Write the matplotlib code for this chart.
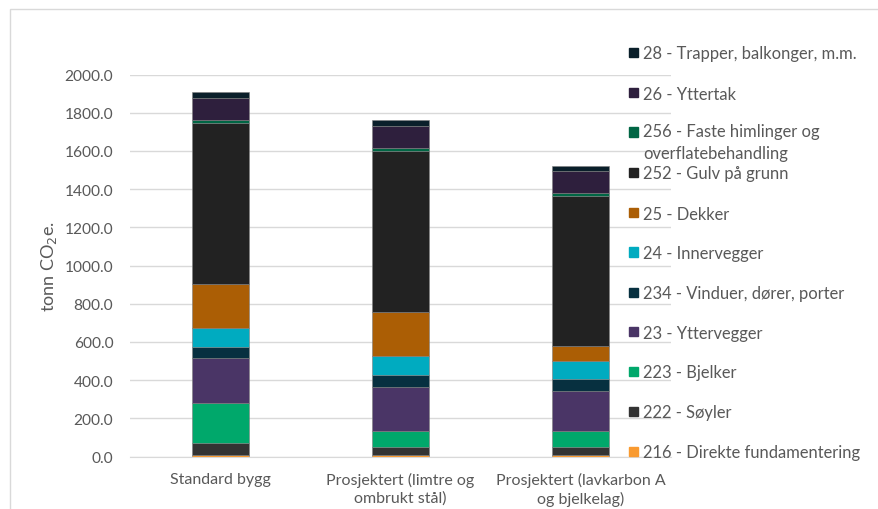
import matplotlib.pyplot as plt
from matplotlib.patches import Rectangle

plt.rcParams['font.family'] = ['Lato', 'DejaVu Sans']

kategorier = ['Standard bygg', 'Prosjektert (limtre og\nombrukt stål)',
              'Prosjektert (lavkarbon A\nog bjelkelag)']

# bygningsdeler, nederst forst
deler = ['216 - Direkte fundamentering', '222 - Søyler', '223 - Bjelker',
         '23 - Yttervegger', '234 - Vinduer, dører, porter', '24 - Innervegger',
         '25 - Dekker', '252 - Gulv på grunn',
         '256 - Faste himlinger og\noverflatebehandling', '26 - Yttertak',
         '28 - Trapper, balkonger, m.m.']

verdier = [
    [7, 7, 7],          # 216
    [65, 43, 43],       # 222
    [210, 84, 84],      # 223
    [233, 230, 209],    # 23
    [58, 61, 61],       # 234
    [102, 102, 94],     # 24
    [228, 230, 82],     # 25
    [843, 843, 785],    # 252
    [14, 14, 14],       # 256
    [118, 114, 115],    # 26
    [32, 33, 27],       # 28
]

farger = ['#f99a30', '#333333', '#00a86b', '#4a3566', '#073040', '#00abc0',
          '#ab5e05', '#222222', '#006644', '#2e1f3d', '#0a1f2a']

W, H = 879, 510
grå = '#595959'
fig = plt.figure(figsize=(W / 100, H / 100), dpi=100)
ax = fig.add_axes([130 / W, 1 - 457.5 / H, (671 - 130) / W, (457.5 - 75.5) / H])

# ramme rundt diagrammet
fig.patches.append(Rectangle((10 / W, -0.1), 1.2, 1 - 10 / H + 0.1,
                             transform=fig.transFigure, fill=False,
                             edgecolor='#d9d9d9', linewidth=1))

x = list(range(len(kategorier)))
bunn = [0, 0, 0]
for navn, v, c in zip(deler, verdier, farger):
    ax.bar(x, v, bottom=bunn, width=0.315, color=c, edgecolor='#7f7f7f',
           linewidth=0.4, zorder=3)
    bunn = [b + vi for b, vi in zip(bunn, v)]

ax.set_xlim(-0.5, 2.5)
ax.set_ylim(0, 2000)
ax.set_yticks(range(0, 2001, 200))
ax.set_yticklabels([f'{t:.1f}' for t in range(0, 2001, 200)])
ax.set_xticks(x)
ax.set_xticklabels(kategorier, fontsize=11.5, linespacing=1.35)
ax.grid(axis='y', color='#d9d9d9', linewidth=1, zorder=0)
for s in ['top', 'right', 'left']:
    ax.spines[s].set_visible(False)
ax.spines['bottom'].set_color('#d9d9d9')
ax.tick_params(axis='both', length=0, colors=grå)
ax.tick_params(axis='y', labelsize=11.2, pad=12)
ax.tick_params(axis='x', pad=11)
ax.set_ylabel('tonn CO$_2$e.', fontsize=13, color=grå, labelpad=4)

# forklaring, ovenfra og ned
ys = [53, 93, 133, 173, 213, 253, 293, 332, 372, 412, 452]
for navn, c, y in zip(deler[::-1], farger[::-1], ys):
    fig.patches.append(Rectangle((629 / W, 1 - (y + 4.5) / H), 9 / W, 9 / H,
                                 transform=fig.transFigure, color=c))
    if '\n' in navn:
        fig.text(643 / W, 1 - (y - 9) / H, navn, fontsize=11.9, color=grå,
                 va='top', linespacing=1.5)
    else:
        fig.text(643 / W, 1 - y / H, navn, fontsize=11.9, color=grå,
                 va='center_baseline')

fig.savefig('out.png', dpi=100)
